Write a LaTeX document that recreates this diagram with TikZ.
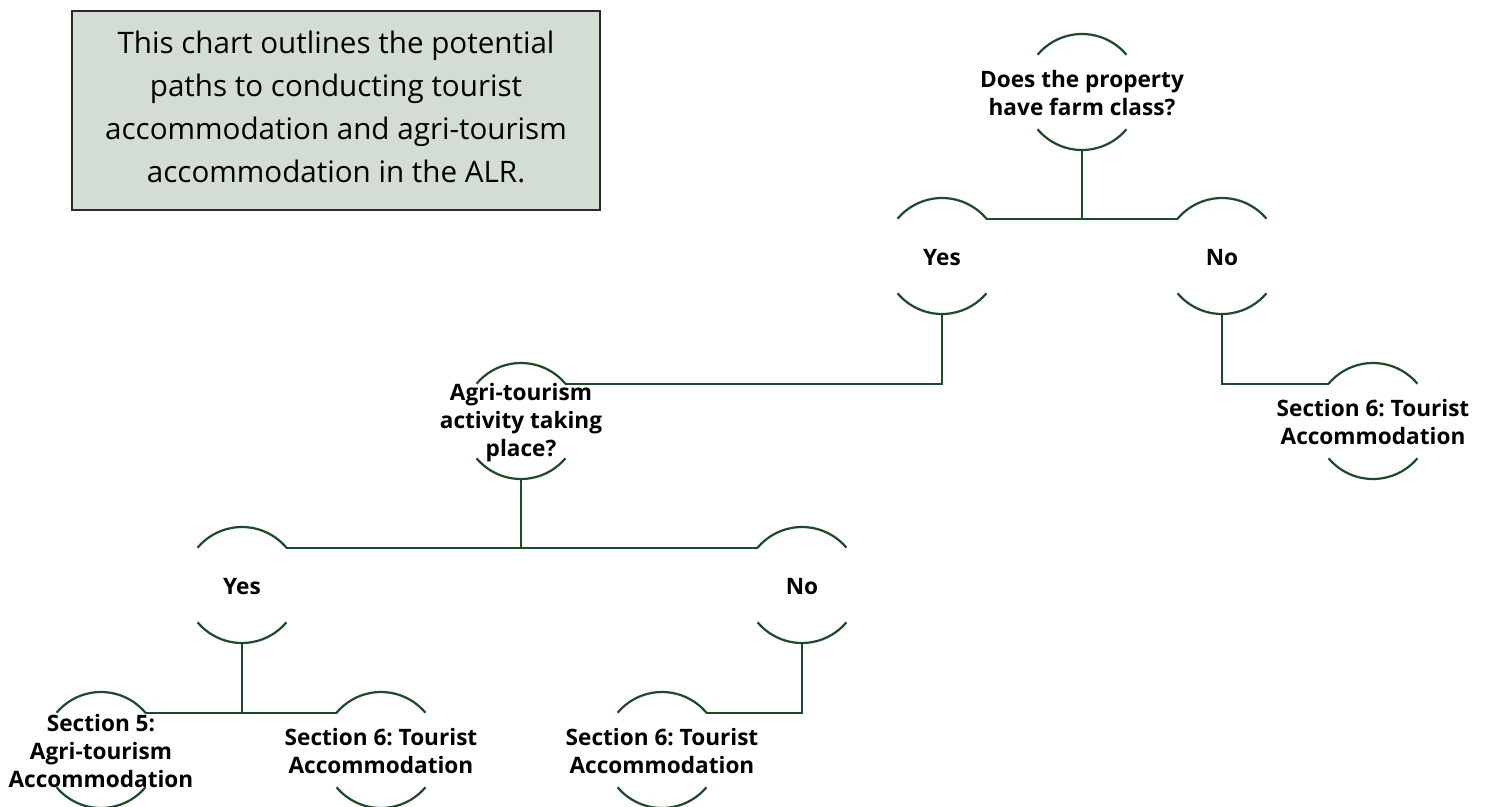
\documentclass[tikz,border=0pt]{standalone}
\usepackage{fontspec}
\setmainfont{Open Sans}
\usepackage{xcolor}
\usetikzlibrary{positioning,calc}
\frenchspacing

\definecolor{linegreen}{HTML}{1E4A2A}
\definecolor{boxfill}{HTML}{D3DDD3}
\definecolor{boxline}{HTML}{2A2A2A}

\tikzset{
  answer/.style={circle, minimum size=116pt, inner sep=0pt, outer sep=0pt},
  anstext/.style={align=center, inner sep=0pt, yshift=-1.5pt, font=\fontsize{22.6}{28}\selectfont\bfseries},
  arcline/.style={draw=linegreen, line width=2.2pt},
  link/.style={draw=linegreen, line width=2.2pt},
  notebox/.style={draw=boxline, fill=boxfill, line width=1.2pt, minimum width=528pt, minimum height=199pt},
  notetext/.style={align=center, font=\fontsize{29.6}{43}\selectfont}
}

\begin{document}
\begin{tikzpicture}[x=1pt, y=-1pt]
            \useasboundingbox (0,0) rectangle (1486,806);

            % Intro note
            \node[notebox] (note) at (336,110.5) {};
            \node[notetext] (note-t) at (336,107) {This chart outlines the potential\\paths to conducting tourist\\accommodation and agri-tourism\\accommodation in the ALR.};

            % Question and answer circles
            \node[answer] (farm) at (1082,92) {};
            \node[answer] (yesfarm) at (942,256) {};
            \node[answer] (nofarm) at (1222,256) {};
            \node[answer] (agri) at (521,421) {};
            \node[answer] (secsixA) at (1373,421) {};
            \node[answer] (yesagri) at (242,585) {};
            \node[answer] (noagri) at (802,585) {};
            \node[answer] (secfive) at (101,750) {};
            \node[answer] (secsixB) at (381,750) {};
            \node[answer] (secsixC) at (662,750) {};

            % Their texts
            \node[anstext] (farm-t) at (farm) {Does the property\\have farm class?};
            \node[anstext] (yesfarm-t) at (yesfarm) {Yes};
            \node[anstext] (nofarm-t) at (nofarm) {No};
            \node[anstext] (agri-t) at (agri) {Agri-tourism\\activity taking\\place?};
            \node[anstext] (secsixA-t) at (secsixA) {Section 6: Tourist\\Accommodation};
            \node[anstext] (yesagri-t) at (yesagri) {Yes};
            \node[anstext] (noagri-t) at (noagri) {No};
            \node[anstext] (secfive-t) at (secfive) {Section 5:\\Agri-tourism\\Accommodation};
            \node[anstext] (secsixB-t) at (secsixB) {Section 6: Tourist\\Accommodation};
            \node[anstext] (secsixC-t) at (secsixC) {Section 6: Tourist\\Accommodation};

            % Top and bottom arcs round every circle
            \foreach \n in {farm,yesfarm,nofarm,agri,secsixA,yesagri,noagri,secfive,secsixB,secsixC} {
              \draw[arcline] (\n.40) arc[start angle=40, end angle=140, radius=58pt];
              \draw[arcline] (\n.220) arc[start angle=220, end angle=320, radius=58pt];
            }

            % Connectors
            \draw[link] (farm.south) -- (farm.south |- yesfarm.40);
            \draw[link] (yesfarm.40) -- (nofarm.140);
            \draw[link] (yesfarm.south) |- (agri.40);
            \draw[link] (nofarm.south) |- (secsixA.140);
            \draw[link] (agri.south) -- (agri.south |- yesagri.40);
            \draw[link] (yesagri.40) -- (noagri.140);
            \draw[link] (yesagri.south) -- (yesagri.south |- secfive.40);
            \draw[link] (secfive.40) -- (secsixB.140);
            \draw[link] (noagri.south) |- (secsixC.40);
\end{tikzpicture}
\end{document}
